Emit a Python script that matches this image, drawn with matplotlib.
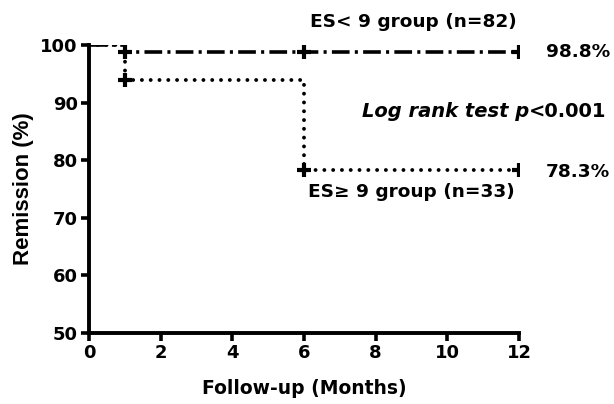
import matplotlib.pyplot as plt

plt.rcParams['font.family'] = ['DejaVu Sans']
plt.rcParams['font.weight'] = 'bold'

# step data for the two groups (months, remission %)
low_t = [0, 1, 1, 12]
low_s = [100, 100, 98.8, 98.8]
low_cens_t = [1, 6, 12]
low_cens_s = [98.8, 98.8, 98.8]

high_t = [0, 1, 1, 6, 6, 12]
high_s = [100, 100, 93.9, 93.9, 78.3, 78.3]
high_cens_t = [1, 6, 12]
high_cens_s = [93.9, 78.3, 78.3]

x_ticks = [0, 2, 4, 6, 8, 10, 12]
y_ticks = [50, 60, 70, 80, 90, 100]

fig = plt.figure(figsize=(6.14, 4.04), dpi=100)
ax = fig.add_axes([0.145, 0.1757, 0.7003, 0.7129])

ax.plot(low_t, low_s, color='black', lw=2.6, linestyle=(0, (4.9, 1.45, 0.85, 1.45)),
        dash_capstyle='butt')
ax.plot(high_t, high_s, color='black', lw=2.8, linestyle=(0, (0.01, 2.25)),
        dash_capstyle='round')
for t, s in zip(low_cens_t + high_cens_t, low_cens_s + high_cens_s):
    ax.plot([t], [s], marker='+', color='black', ms=10, mew=3, linestyle='none')

ax.set_xlim(0, 12)
ax.set_ylim(50, 100)
ax.set_xticks(x_ticks)
ax.set_yticks(y_ticks)
ax.spines['top'].set_visible(False)
ax.spines['right'].set_visible(False)
for sp in ['left', 'bottom']:
    ax.spines[sp].set_linewidth(2.8)
ax.tick_params(direction='out', length=6, width=2.6, labelsize=13, pad=2)

ax.set_xlabel('Follow-up (Months)', fontsize=13.5, fontweight='bold', labelpad=12.5)
ax.set_ylabel('Remission (%)', fontsize=16, fontweight='bold',
              family='Liberation Sans', va='center')
ax.yaxis.set_label_coords(-0.153, 0.5)

ax.text(9.04, 104.0, 'ES< 9 group (n=82)', fontsize=13.3, fontweight='bold',
        ha='center', va='center', clip_on=False)
ax.text(12.75, 98.8, '98.8%', fontsize=13.3, fontweight='bold',
        ha='left', va='center', clip_on=False)
t1 = ax.text(7.62, 88.4, 'Log rank test p', fontsize=14, fontweight='bold',
             style='italic', ha='left', va='center', clip_on=False)
ax.annotate('<0.001', xy=(1, 0), xycoords=t1, fontsize=14, fontweight='bold',
            ha='left', va='bottom', annotation_clip=False)
ax.text(12.75, 78.0, '78.3%', fontsize=13.3, fontweight='bold',
        ha='left', va='center', clip_on=False)
ax.text(8.99, 74.5, 'ES\u2265 9 group (n=33)', fontsize=13.3, fontweight='bold',
        ha='center', va='center', clip_on=False)

fig.savefig('out.png', dpi=100)
